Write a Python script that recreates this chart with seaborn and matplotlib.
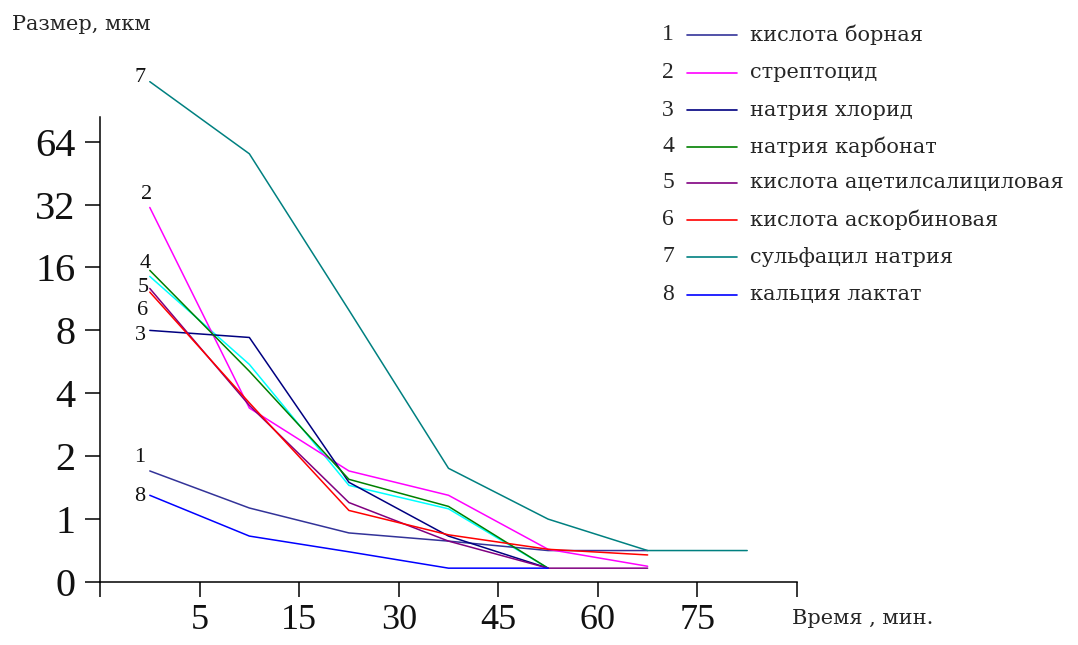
import numpy as np
import pandas as pd
import matplotlib
matplotlib.use("Agg")
import matplotlib.pyplot as plt
import seaborn as sns
from matplotlib.lines import Line2D
from matplotlib.ticker import NullLocator

# --- data (size, µm) ---
time_labels = ["5", "15", "30", "45", "60", "75"]
size_ticks = [0, 1, 2, 4, 8, 16, 32, 64]

boric = [1.7, 1.13, 0.78, 0.65, 0.5, 0.5]
streptocid = [31, 3.4, 1.7, 1.3, 0.52, 0.25]
nacl = [8, 7.4, 1.5, 0.73, 0.22]
na_carbonate = [15.5, 5.1, 1.55, 1.15, 0.22]
na_carbonate_2 = [14.5, 5.5, 1.45, 1.12, 0.22]
acetylsalicylic = [12.7, 3.5, 1.2, 0.65, 0.22, 0.22]
ascorbic = [12.2, 3.6, 1.1, 0.75, 0.52, 0.43]
sulfacyl = [124, 56, 10, 1.75, 1.0, 0.5, 0.5]
ca_lactate = [1.3, 0.73, 0.48, 0.22, 0.22]

names = ["кислота борная", "стрептоцид", "натрия хлорид", "натрия карбонат",
         "кислота ацетилсалициловая", "кислота аскорбиновая",
         "сульфацил натрия", "кальция лактат"]
numbers = ["1", "2", "3", "4", "5", "6", "7", "8"]
values = [boric, streptocid, nacl, na_carbonate, acetylsalicylic,
          ascorbic, sulfacyl, ca_lactate]
colors = ["#333399", "#ff00ff", "#000080", "#008000", "#800080",
          "#ff0000", "#008080", "#0000ff"]

sns.set_style("ticks")
plt.rcParams["font.family"] = ["Liberation Serif", "DejaVu Serif"]

rows = []
for name, vals in [("extra", na_carbonate_2)] + list(zip(names, values)):
    for i, v in enumerate(vals):
        rows.append({"series": name, "step": i + 0.5, "size": v})
df = pd.DataFrame(rows)

palette = dict(zip(names, colors))
palette["extra"] = "#00ffff"

W, H = 1078, 645
fig = plt.figure(figsize=(W / 100, H / 100), dpi=100)
ax = fig.add_axes([100 / W, 1 - 582 / H, 697 / W, 465 / H])

sns.lineplot(data=df, x="step", y="size", hue="series", palette=palette,
             hue_order=["extra"] + names, estimator=None, sort=False,
             legend=False, linewidth=1.1, ax=ax)
for ln in ax.lines:
    ln.set_clip_on(False)


def fwd(v):
    v = np.asarray(v, dtype=float)
    return np.where(v < 1, v, 1 + np.log2(np.clip(v, 1, None)))


def inv(p):
    p = np.asarray(p, dtype=float)
    return np.where(p < 1, p, 2 ** (p - 1))


ax.set_yscale("function", functions=(fwd, inv))
ax.set_ylim(0, 84)
ax.set_yticks(size_ticks)
ax.set_yticklabels([str(t) for t in size_ticks])
ax.yaxis.set_minor_locator(NullLocator())

ax.set_xlim(0, 7)
ax.set_xticks(range(8))
ax.set_xticklabels([""] + time_labels + [""])

ax.set_xlabel("")
ax.set_ylabel("")
for s in ["top", "right"]:
    ax.spines[s].set_visible(False)
for s in ["left", "bottom"]:
    ax.spines[s].set_linewidth(1.1)
    ax.spines[s].set_color("black")
ax.tick_params(axis="both", length=10.8, width=1.1, color="black",
               labelcolor="#111111")
ax.tick_params(axis="y", pad=7, labelsize=29)
ax.tick_params(axis="x", pad=5, labelsize=26)

# curve numbers next to the first point of each line
offsets = {"1": (-7, 10), "2": (-2, 9), "3": (-7, -4), "4": (-3, 5),
           "5": (-5, 1), "6": (-5, -13), "7": (-7, 3), "8": (-7, -1)}
for num, vals in zip(numbers, values):
    ax.annotate(num, xy=(0.5, vals[0]), xytext=offsets[num],
                textcoords="offset points", ha="center", va="center",
                fontsize=16, color="#111111", annotation_clip=False)

# axis captions
fig.text(12 / W, 1 - 25 / H, "Размер, мкм", ha="left", va="center",
         fontsize=15, family=["DejaVu Serif"])
fig.text(792 / W, 1 - 618 / H, "Время , мин.", ha="left", va="center",
         fontsize=15, family=["DejaVu Serif"])

# legend drawn by hand (number, line, name)
leg_y = [35, 73, 110, 147, 183, 220, 257, 295]
for num, name, col, y in zip(numbers, names, colors, leg_y):
    fig.text(668 / W, 1 - y / H, num, ha="center", va="center", fontsize=17)
    fig.add_artist(Line2D([687 / W, 737 / W], [1 - y / H, 1 - y / H],
                          transform=fig.transFigure, color=col, linewidth=1.2))
    fig.text(750 / W, 1 - y / H, name, ha="left", va="center",
             fontsize=15, family=["DejaVu Serif"])

fig.savefig("out.png", dpi=100)
